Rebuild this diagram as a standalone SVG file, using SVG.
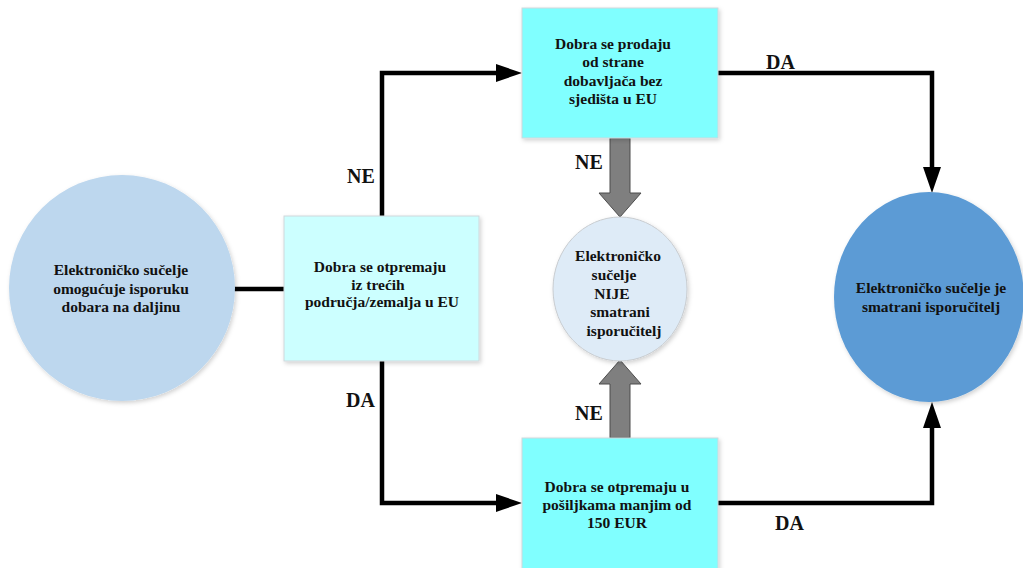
<svg xmlns="http://www.w3.org/2000/svg" width="1023" height="568" viewBox="0 0 1023 568">
<style>
.t{font-family:"Liberation Serif","Times New Roman",serif;font-weight:bold;font-size:15.5px;fill:#111;text-anchor:middle}
.lbl{font-family:"Liberation Serif","Times New Roman",serif;font-weight:bold;font-size:20px;fill:#111}
.conn{fill:none;stroke:#000;stroke-width:4.5;stroke-linejoin:miter}
.blk{fill:#7f7f7f;stroke:#4d4d4d;stroke-width:1}
.box{stroke:#d0d8dc;stroke-width:1}
</style>
<defs>
<filter id="sh" x="-10%" y="-10%" width="125%" height="125%">
<feDropShadow dx="1.5" dy="2" stdDeviation="2" flood-color="#000" flood-opacity="0.18"/>
</filter>
<marker id="ah" markerUnits="userSpaceOnUse" markerWidth="26" markerHeight="18" refX="14" refY="9" orient="auto">
<path d="M0,0 L26,9 L0,18 z" fill="#000"/>
</marker>
</defs>
<rect width="1023" height="568" fill="#fff"/>
<g id="connectors">
<line class="conn" x1="234" y1="289" x2="284" y2="289" stroke-linecap="round"/>
<polyline class="conn" points="382,216 382,73 510,73" marker-end="url(#ah)"/>
<polyline class="conn" points="382,361 382,503 510,503" marker-end="url(#ah)"/>
<polyline class="conn" points="718,73 932,73 932,181" marker-end="url(#ah)"/>
<polyline class="conn" points="718,503 932,503 932,414" marker-end="url(#ah)"/>
<polygon class="blk" points="610,138 630,138 630,193 641,193 620,217 599,193 610,193"/>
<polygon class="blk" points="610,438 630,438 630,384 641,384 620,360 599,384 610,384"/>
<text class="lbl" x="347" y="183">NE</text>
<text class="lbl" x="346" y="407">DA</text>
<text class="lbl" x="575" y="169">NE</text>
<text class="lbl" x="575" y="420">NE</text>
<text class="lbl" x="766" y="69">DA</text>
<text class="lbl" x="775" y="530">DA</text>
</g>
<g id="start">
<circle cx="122" cy="288" r="113" fill="#bdd7ee" filter="url(#sh)"/>
<text class="t" x="121" y="275">Elektroničko sučelje</text>
<text class="t" x="121" y="293.5">omogućuje isporuku</text>
<text class="t" x="121" y="312">dobara na daljinu</text>
</g>
<g id="q1">
<rect class="box" x="284" y="216" width="195" height="145" fill="#ccffff" filter="url(#sh)"/>
<text class="t" x="380" y="272">Dobra se otpremaju</text>
<text class="t" x="378" y="289.5">iz trećih</text>
<text class="t" x="382" y="307">područja/zemalja u EU</text>
</g>
<g id="q2">
<rect class="box" x="522" y="8" width="196" height="130" fill="#80ffff" filter="url(#sh)"/>
<text class="t" x="613" y="48.5">Dobra se prodaju</text>
<text class="t" x="613" y="67">od strane</text>
<text class="t" x="613" y="85.5">dobavljača bez</text>
<text class="t" x="613" y="104">sjedišta u EU</text>
</g>
<g id="q3">
<rect class="box" x="522" y="438" width="196" height="135" fill="#80ffff" filter="url(#sh)"/>
<text class="t" x="617" y="492">Dobra se otpremaju u</text>
<text class="t" x="617" y="510">pošiljkama manjim od</text>
<text class="t" x="617" y="528">150 EUR</text>
</g>
<g id="notSupplier">
<ellipse cx="620" cy="289" rx="67" ry="72" fill="#deebf7" stroke="#c8ccd0" stroke-width="1" filter="url(#sh)"/>
<text class="t" x="618" y="261">Elektroničko</text>
<text class="t" x="614" y="280">sučelje</text>
<text class="t" x="612" y="298.5">NIJE</text>
<text class="t" x="620" y="317">smatrani</text>
<text class="t" x="624" y="335.5">isporučitelj</text>
</g>
<g id="supplier">
<ellipse cx="929" cy="297" rx="95" ry="105" fill="#5b9bd5" filter="url(#sh)"/>
<text class="t" x="931" y="293">Elektroničko sučelje je</text>
<text class="t" x="931" y="312">smatrani isporučitelj</text>
</g>
</svg>
